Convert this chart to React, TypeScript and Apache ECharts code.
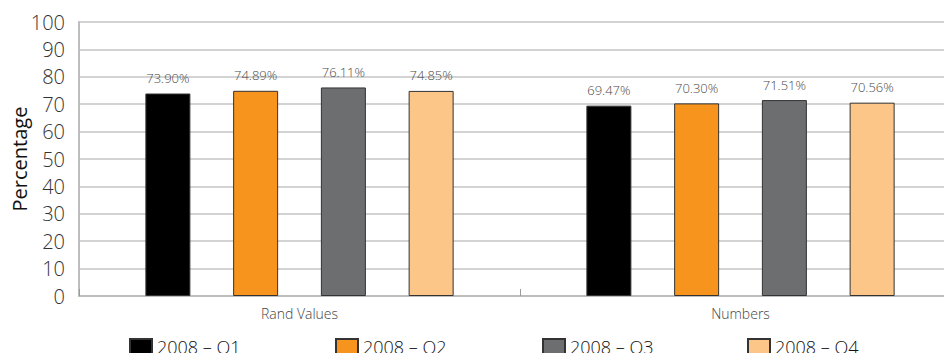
import React, { useEffect, useRef } from "react";
import * as echarts from "echarts";

const categories = ["Rand Values", "Numbers"];
const seriesNames = ["2008 – O1", "2008 – O2", "2008 – O3", "2008 – O4"];
const q1 = [73.9, 69.47];
const q2 = [74.89, 70.3];
const q3 = [76.11, 71.51];
const q4 = [74.85, 70.56];
const yTicks = [0, 10, 20, 30, 40, 50, 60, 70, 80, 90, 100];

const colors = ["#000000", "#F7941D", "#6D6E70", "#FDC689"];
const FONT = "Open Sans";

export default function App() {
  const ref = useRef<HTMLDivElement>(null);
  useEffect(() => {
    if (!ref.current) return;
    const chart = echarts.init(ref.current, null, { renderer: "svg" });
    const values = [q1, q2, q3, q4];
    const legendX = [124, 330, 537, 742];
    chart.setOption({
      animation: false,
      textStyle: { fontFamily: FONT },
      grid: { left: 79, right: -17, top: 22, bottom: 57, containLabel: false, outerBoundsMode: "none" },
      legend: seriesNames.map((n, i) => ({
        data: [n],
        left: legendX[i],
        top: 333,
        itemWidth: 22,
        itemHeight: 16,
        itemGap: 10,
        icon: "rect",
        textStyle: { fontSize: 18, color: "#111", fontFamily: FONT, fontWeight: 300 },
      })),
      xAxis: {
        type: "category",
        data: categories,
        axisLine: { show: true, lineStyle: { color: "#bdbdbd", width: 2 } },
        axisTick: { show: true, inside: true, length: 7, lineStyle: { color: "#9a9a9a" } },
        axisLabel: { fontSize: 14, color: "#444", margin: 10, fontWeight: 300 },
      },
      yAxis: {
        type: "value",
        min: 0,
        max: 100,
        interval: 10,
        name: "Percentage",
        nameLocation: "middle",
        nameGap: 50,
        nameMoveOverlap: false,
        nameTextStyle: { fontSize: 20, color: "#111", fontFamily: FONT },
        axisLine: { show: true, lineStyle: { color: "#bdbdbd", width: 2 } },
        axisTick: { show: false },
        axisLabel: {
          fontSize: 20,
          color: "#333",
          margin: 14,
          fontWeight: 300,
          formatter: (v: number) => (yTicks.includes(v) ? String(v) : ""),
        },
        splitLine: { show: true, lineStyle: { color: "#c4c4c4", width: 1.5 } },
      },
      series: seriesNames.map((n, i) => ({
        name: n,
        type: "bar",
        data: values[i],
        barWidth: 45,
        barGap: "95%",
        itemStyle: { color: colors[i], borderColor: "#333", borderWidth: 1 },
        label: {
          show: true,
          position: "top",
          distance: 9,
          fontSize: 13,
          color: "#4a4a4a",
          fontWeight: 300,
          formatter: (p: any) => p.value.toFixed(2) + "%",
        },
      })),
    });
    return () => chart.dispose();
  }, []);
  return <div ref={ref} style={{ width: 944, height: 353, position: "absolute", left: 0, top: 0 }} />;
}
